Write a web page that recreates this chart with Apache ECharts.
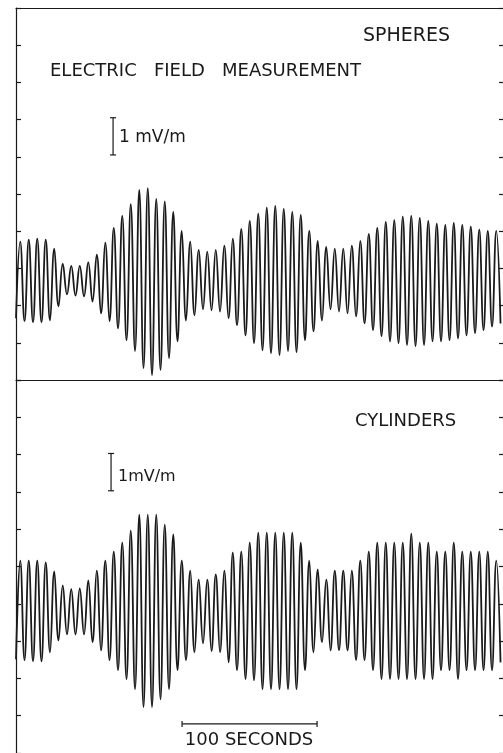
<!DOCTYPE html>
<html>
<head>
<meta charset="utf-8">
<script src="https://cdn.jsdelivr.net/npm/echarts@6/dist/echarts.min.js"></script>
<style>
html,body{margin:0;padding:0;background:#fff;}
#c{width:503px;height:753px;}
</style>
</head>
<body>
<div id="c"></div>
<script>
// Electric field recordings (values in mV/m on the panel's tick scale, 1 tick = 1 mV/m)
// Extrema alternate: trough, peak, trough, ... spaced half a wave period apart.
const halfPeriodSec = 3.148;   // seconds between successive extrema
const xMaxSec = 360.7;         // record length shown (s)

const topPeaks = [3.72,3.77,3.80,3.77,3.53,3.13,3.07,3.07,3.16,3.37,3.69,4.09,4.41,4.73,5.11,5.16,4.87,4.80,4.52,4.01,3.72,3.50,3.45,3.50,3.61,3.80,4.06,4.28,4.47,4.63,4.68,4.60,4.52,4.44,4.01,3.74,3.58,3.53,3.53,3.61,3.74,3.93,4.09,4.25,4.30,4.39,4.41,4.36,4.28,4.20,4.17,4.22,4.17,4.12,4.04,4.01,4.01];
const topTroughs = [1.66,1.58,1.55,1.55,1.60,1.98,2.30,2.27,2.25,2.11,1.79,1.58,1.39,1.07,0.78,0.32,0.13,0.27,0.59,1.04,1.60,1.74,1.90,1.87,1.84,1.66,1.47,1.20,0.99,0.80,0.72,0.67,0.78,0.75,1.07,1.31,1.60,1.90,1.84,1.79,1.71,1.52,1.34,1.18,1.04,0.99,0.94,0.91,0.94,1.04,1.04,1.07,1.12,1.20,1.26,1.34,1.44,1.52];
const botPeaks = [5.16,5.16,5.16,5.11,4.87,4.49,4.39,4.41,4.63,4.89,5.16,5.40,5.64,5.96,6.39,6.39,6.39,6.12,5.86,5.16,4.89,4.65,4.65,4.79,4.89,5.37,5.40,5.64,5.91,5.91,5.91,5.91,5.91,5.64,5.16,4.92,4.65,4.89,4.89,4.89,5.16,5.40,5.64,5.64,5.64,5.64,5.88,5.64,5.64,5.40,5.40,5.64,5.40,5.40,5.40,5.40,5.16];
const botTroughs = [2.51,2.49,2.46,2.46,2.70,3.02,3.18,3.18,3.18,2.97,2.75,2.49,2.22,1.98,1.71,1.23,1.23,1.44,1.71,2.22,2.49,2.70,2.94,2.73,2.70,2.43,2.22,1.98,1.95,1.71,1.71,1.71,1.71,1.71,2.22,2.70,2.97,2.75,2.75,2.75,2.49,2.49,2.22,1.98,1.98,1.98,1.98,1.98,1.98,1.98,2.22,2.22,1.98,2.22,2.22,2.22,2.22,2.43];

const panelLabels = ['SPHERES', 'CYLINDERS'];
const titleText = 'ELECTRIC   FIELD   MEASUREMENT';
const scaleLabels = ['1 mV/m', '1mV/m'];
const timeScaleLabel = '100 SECONDS';
const timeScaleSec = 100;

function buildWave(troughs, peaks) {
  const pts = [];
  for (let i = 0; i < troughs.length; i++) {
    pts.push([2 * i * halfPeriodSec, troughs[i]]);
    if (i < peaks.length) pts.push([(2 * i + 1) * halfPeriodSec, peaks[i]]);
  }
  return pts;
}

const INK = '#1a1a1a';
const chart = echarts.init(document.getElementById('c'), null, {renderer: 'canvas'});

function yAx(gi, pos) {
  return {
    type: 'value', gridIndex: gi, position: pos, min: 0, max: 10, interval: 1,
    axisLine: {show: pos === 'left', lineStyle: {color: INK, width: 1.2}},
    axisTick: {show: true, inside: true, length: pos === 'left' ? 5 : 4, lineStyle: {color: INK, width: 1.2}},
    axisLabel: {show: false}, splitLine: {show: false}
  };
}
function xAx(gi) {
  return {
    type: 'value', gridIndex: gi, position: 'top', min: 0, max: xMaxSec,
    axisLine: {show: true, onZero: false, lineStyle: {color: INK, width: 1.2}},
    axisTick: {show: false}, axisLabel: {show: false}, splitLine: {show: false}
  };
}

function vBar(params, api) {
  const a = api.coord([api.value(0), api.value(1)]);
  const b = api.coord([api.value(0), api.value(2)]);
  const st = {stroke: INK, lineWidth: 1.2};
  return {type: 'group', children: [
    {type: 'line', shape: {x1: a[0], y1: a[1], x2: b[0], y2: b[1]}, style: st},
    {type: 'line', shape: {x1: a[0] - 3, y1: a[1], x2: a[0] + 3, y2: a[1]}, style: st},
    {type: 'line', shape: {x1: b[0] - 3, y1: b[1], x2: b[0] + 3, y2: b[1]}, style: st}
  ]};
}
function hBar(params, api) {
  const a = api.coord([api.value(0), api.value(2)]);
  const b = api.coord([api.value(1), api.value(2)]);
  const st = {stroke: INK, lineWidth: 1.2};
  return {type: 'group', children: [
    {type: 'line', shape: {x1: a[0], y1: a[1], x2: b[0], y2: b[1]}, style: st},
    {type: 'line', shape: {x1: a[0], y1: a[1] - 3, x2: a[0], y2: a[1] + 3}, style: st},
    {type: 'line', shape: {x1: b[0], y1: b[1] - 3, x2: b[0], y2: b[1] + 3}, style: st}
  ]};
}

const FONT = '"DejaVu Sans", sans-serif';
function txt(x, y, text, size, align) {
  return {type: 'text', x: x, y: y, silent: true,
    style: {text: text, font: size + 'px ' + FONT, fill: INK, align: align || 'left', verticalAlign: 'middle'}};
}

const option = {
  animation: false,
  backgroundColor: '#fff',
  grid: [
    {left: 16, top: 8, width: 487, height: 372},
    {left: 16, top: 380, width: 487, height: 376}
  ],
  xAxis: [xAx(0), xAx(1)],
  yAxis: [yAx(0, 'left'), yAx(0, 'right'), yAx(1, 'left'), yAx(1, 'right')],
  series: [
    {type: 'line', xAxisIndex: 0, yAxisIndex: 0, data: buildWave(topTroughs, topPeaks),
      smooth: 0.45, symbol: 'none', lineStyle: {color: INK, width: 1.8}},
    {type: 'line', xAxisIndex: 1, yAxisIndex: 2, data: buildWave(botTroughs, botPeaks),
      smooth: 0.45, symbol: 'none', lineStyle: {color: INK, width: 1.8}},
    {type: 'custom', xAxisIndex: 0, yAxisIndex: 0, renderItem: vBar, clip: false,
      data: [[71.9, 6.05, 7.05]]},
    {type: 'custom', xAxisIndex: 1, yAxisIndex: 2, renderItem: vBar, clip: false,
      data: [[70.4, 7.03, 8.03]]},
    {type: 'custom', xAxisIndex: 1, yAxisIndex: 2, renderItem: hBar, clip: false,
      data: [[123, 123 + timeScaleSec, 0.78]]}
  ],
  graphic: [
    txt(363, 36, panelLabels[0], 19),
    txt(50, 71, titleText, 18),
    txt(119, 138, scaleLabels[0], 17),
    txt(355, 421, panelLabels[1], 18),
    txt(118, 477, scaleLabels[1], 16),
    txt(249, 740, timeScaleLabel, 18, 'center')
  ]
};
chart.setOption(option);
</script>
</body>
</html>
